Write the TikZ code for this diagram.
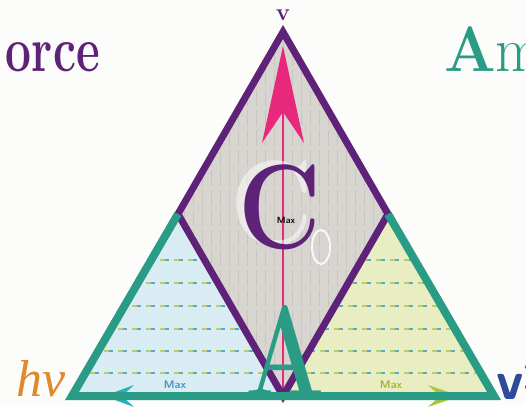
\documentclass[tikz,border=0pt]{standalone}
\usepackage{fontspec}
\usepackage{graphicx}
\newfontfamily\hvfont{Liberation Serif}
\definecolor{cpurple}{HTML}{5E2278}
\definecolor{cteal}{HTML}{2A9B84}
\definecolor{cpink}{HTML}{E8287C}
\definecolor{corange}{HTML}{E08A30}
\definecolor{cnavy}{HTML}{2E4A98}
\definecolor{cgrayfill}{HTML}{D8D5D1}
\definecolor{cstripe}{HTML}{C9C5C0}
\definecolor{cblue}{HTML}{D9ECF3}
\definecolor{cyellow}{HTML}{E8EEC2}
\definecolor{crowgreen}{HTML}{B5CF6A}
\definecolor{crowblue}{HTML}{5AA8D0}
\definecolor{ccyan}{HTML}{2BB0C0}
\definecolor{cgreenarrow}{HTML}{A8C440}
\definecolor{cmaxblue}{HTML}{4A90C8}
\definecolor{cmaxolive}{HTML}{B0B030}
\definecolor{cbg}{HTML}{FCFCFA}
\tikzset{
  bigtext/.style={inner sep=0pt},
  maxlabel/.style={font=\sffamily\bfseries\fontsize{11}{11}\selectfont, inner sep=0pt},
  rowgreen/.style={crowgreen, line width=1.3pt, dash pattern=on 9pt off 5pt},
  rowblue/.style={crowblue, line width=2.6pt, dash pattern=on 3.5pt off 10.5pt, dash phase=-5pt},
}
\begin{document}
\begin{tikzpicture}[x=1pt,y=-1pt]
\useasboundingbox (0,0) rectangle (526,406);
\clip (0,0) rectangle (526,406);
\fill[cbg] (0,0) rectangle (526,406);

\coordinate (T) at (283,32);
\coordinate (L) at (178,214);
\coordinate (R) at (388,214);
\coordinate (B) at (283,396);
\coordinate (BL) at (72,396);
\coordinate (BR) at (494,396);
\coordinate (tip) at (283,46);

% fills
\fill[cblue] (BL) -- (L) -- (B) -- cycle;
\fill[cyellow] (B) -- (R) -- (BR) -- cycle;
\fill[cgrayfill] (T) -- (L) -- (B) -- (R) -- cycle;

% vertical stripes in diamond
\begin{scope}
  \clip (T) -- (L) -- (B) -- (R) -- cycle;
  \foreach \x in {184,193,...,386}
    \draw[cstripe, line width=1pt, dash pattern=on 16pt off 4pt] (\x,30) -- (\x,400);
\end{scope}

% flow rows
\begin{scope}
  \clip (BL) -- (L) -- (B) -- cycle;
  \foreach \y in {260,283,306,329,351,373} {
    \draw[rowgreen] (90,\y) -- (275,\y);
    \draw[rowblue] (90,\y) -- (275,\y);
  }
\end{scope}
\begin{scope}
  \clip (B) -- (R) -- (BR) -- cycle;
  \foreach \y in {260,283,306,329,351,373} {
    \draw[rowgreen] (292,\y) -- (480,\y);
    \draw[rowblue] (292,\y) -- (480,\y);
  }
\end{scope}

% pink arrow
\draw[cpink, line width=2.5pt] (B) -- (283,105);
\fill[cpink] (tip) -- (304,143) -- (283,112) -- (262,143) -- cycle;

% C with white ghost
\node[bigtext, white, opacity=0.5, font=\bfseries\fontsize{120}{120}\selectfont] at (272,203) {\scalebox{0.85}[1]{C}};
\draw[white, line width=2pt, opacity=0.85] (321,247) ellipse [x radius=9pt, y radius=17pt];
\node[bigtext, cpurple, font=\bfseries\fontsize{120}{120}\selectfont] (C) at (280,207) {\scalebox{0.85}[1]{C}};
\node[maxlabel, black, font=\sffamily\bfseries\fontsize{9}{9}\selectfont] (maxc) at (286,220) {Max};

% purple diamond
\draw[cpurple, line width=7pt, line join=miter] (T) -- (L) -- (B) -- (R) -- cycle;

% bottom arrowheads
\fill[ccyan] (104,396) -- (134,385) -- (122,396) -- (134,407) -- cycle;
\fill[cgreenarrow] (460,396) -- (428,385) -- (440,396) -- (428,407) -- cycle;

% teal triangle
\draw[cteal, line width=8pt, line join=miter] (L) -- (BL) -- (BR) -- (R);

% A letter
\node[bigtext, cteal, anchor=base, font=\bfseries\fontsize{130}{130}\selectfont] (A) at (285,396) {\scalebox{0.72}[1]{A}};

% Max labels
\node[maxlabel, cmaxblue] (maxl) at (175,385) {Max};
\node[maxlabel, cmaxolive] (maxr) at (391,385) {Max};

% texts
\node[bigtext, cpurple, anchor=base east, font=\bfseries\fontsize{64}{64}\selectfont] (force) at (100,72) {\scalebox{0.72}[1]{orce}};
\node[bigtext, cteal, anchor=base west, font=\fontsize{64}{64}\selectfont] (am) at (444,72) {\scalebox{0.95}[1]{\textbf{A}m}};
\node[bigtext, cpurple, anchor=base, font=\bfseries\fontsize{24}{24}\selectfont] (vtop) at (283,21) {v};
\node[bigtext, corange, anchor=base west, font=\hvfont\itshape\fontsize{52}{52}\selectfont] (hv) at (16,396) {hν};
\node[bigtext, cnavy, anchor=base west, font=\sffamily\bfseries\fontsize{55}{55}\selectfont] (v2) at (496,399) {v\textsuperscript{2}};
\end{tikzpicture}
\end{document}
